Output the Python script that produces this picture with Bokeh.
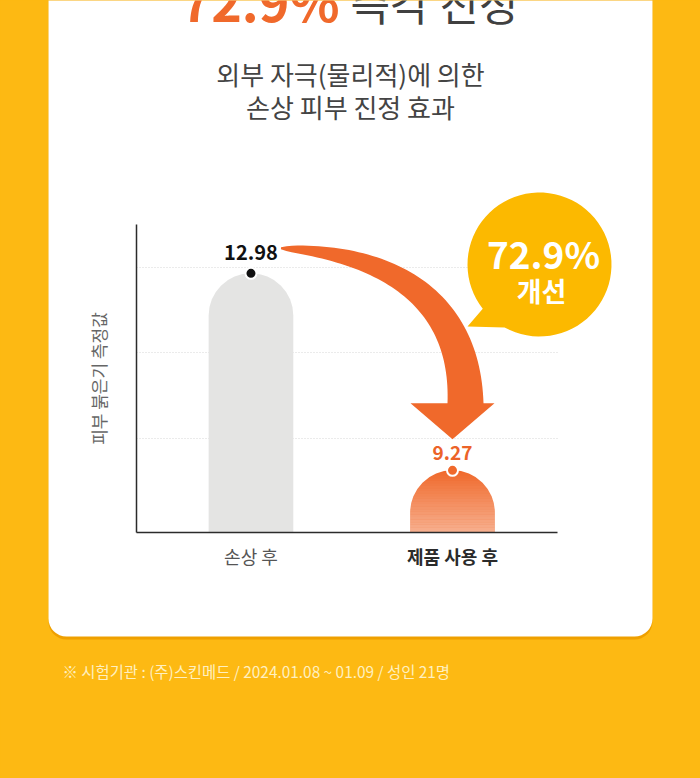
import math
from bokeh.plotting import figure
from bokeh.models import Range1d, FixedTicker, BoxAnnotation, PolyAnnotation, Label, Grid
from bokeh.embed import file_html
from bokeh.resources import INLINE

# ---------------- data ----------------
title_pct = "72.9%"
title_rest = "즉각 진정"
subtitle_lines = ["외부 자극(물리적)에 의한", "손상 피부 진정 효과"]
categories = ["손상 후", "제품 사용 후"]
values = [12.98, 9.27]
value_labels = ["12.98", "9.27"]
improvement_pct = "72.9%"
improvement_word = "개선"
y_axis_title = "피부 붉은기 측정값"
grid_values = [9.87, 11.49, 13.09]
footnote = "※ 시험기관 : (주)스킨메드 / 2024.01.08 ~ 01.09 / 성인 21명"

# ---------------- styles / layout ----------------
FONT = "Noto Sans CJK KR"
BG = "#FDB913"
ORANGE = "#F0692B"
GREY_BAR = "#E4E4E3"
bar_colors = [GREY_BAR, ORANGE]
dot_colors = ["#111111", ORANGE]
value_colors = ["#111111", "#EC6329"]
value_sizes = ["20px", "19px"]
value_offsets = [21, 17]
cat_colors = ["#555555", "#2b2b2b"]
cat_styles = ["normal", "bold"]

W, H = 700, 778
# plot area in page pixels and its data extent
PA_L, PA_R, PA_T, PA_B = 136, 557, 224, 532
X0, X1 = -0.568, 1.521
Y0, Y1 = 8.10, 13.90
kx = (PA_R - PA_L) / (X1 - X0)
ky = (PA_B - PA_T) / (Y1 - Y0)
x_start, x_end = X0 - PA_L / kx, X1 + (W - PA_R) / kx
y_start, y_end = Y0 - (H - PA_B) / ky, Y1 + PA_T / ky
BAR_W = 0.42

xs = list(range(len(categories)))


def to_page(xd, yd):
    return (PA_L + (xd - X0) * kx, PA_B - (yd - Y0) * ky)


def to_data(px, py):
    return (X0 + (px - PA_L) / kx, Y0 + (PA_B - py) / ky)


def sy(py):  # page y -> screen units (from bottom of frame)
    return H - py


p = figure(width=W, height=H, x_range=Range1d(x_start, x_end), y_range=Range1d(y_start, y_end),
           output_backend="svg", toolbar_location=None,
           min_border_left=0, min_border_right=0, min_border_top=0, min_border_bottom=0)
p.border_fill_color = BG
p.background_fill_color = BG
p.outline_line_color = None

# card (white, rounded) behind the chart
shadow = BoxAnnotation(left=48, right=652, top=sy(-30), bottom=sy(639),
                       left_units="screen", right_units="screen", top_units="screen", bottom_units="screen",
                       fill_color="#EFA000", fill_alpha=1, line_color=None, border_radius=18, level="underlay")
card = BoxAnnotation(left=48, right=652, top=sy(-30), bottom=sy(636),
                     left_units="screen", right_units="screen", top_units="screen", bottom_units="screen",
                     fill_color="white", fill_alpha=1, line_color=None, border_radius=18, level="underlay")
p.center = [shadow, card] + list(p.center)

# axes placed at the plot area edges
for ax in (p.xaxis, p.yaxis):
    ax.ticker = FixedTicker(ticks=[])
    ax.axis_line_color = "#2b2b2b"
    ax.axis_line_width = 1.5
    ax.major_tick_line_color = None
    ax.minor_tick_line_color = None
    ax.major_label_text_font_size = "0px"
    ax.major_tick_out = 0
    ax.major_tick_in = 0
    ax.major_label_standoff = 0
p.yaxis.fixed_location = X0
p.yaxis.bounds = (Y0, Y1)
p.xaxis.fixed_location = Y0
p.xaxis.bounds = (X0, X1)

p.xgrid.visible = False
if "cross_bounds" in Grid.properties():
    p.ygrid.ticker = FixedTicker(ticks=grid_values)
    p.ygrid.cross_bounds = (X0, X1)
    p.ygrid.grid_line_color = "#d6d6d6"
    p.ygrid.grid_line_dash = "1 2"
    p.ygrid.grid_line_width = 1
else:
    p.ygrid.visible = False
    p.segment(x0=[X0] * len(grid_values), x1=[X1] * len(grid_values), y0=grid_values, y1=grid_values,
              line_color="#d6d6d6", line_dash="1 2", line_width=1)

# bars
p.vbar(x=xs, top=values, bottom=Y0, width=BAR_W, fill_color=bar_colors, line_color=None,
       border_radius=(42, 42, 0, 0))

# gradient on the highlighted bar (white veil getting stronger downward)
N = 24
hb = 1
for i in range(N):
    lo = Y0 + (values[hb] - Y0) * i / N
    hi = Y0 + (values[hb] - Y0) * (i + 1) / N
    a = 0.48 * (1 - (i + 0.5) / N)
    p.quad(left=[xs[hb] - BAR_W / 2], right=[xs[hb] + BAR_W / 2], bottom=[lo], top=[hi],
           fill_color="white", fill_alpha=a, line_color=None)

# curved arrow from first value to second (page pixel geometry anchored on data)
ax0, ay0 = to_page(xs[0], values[0])
bx1, by1 = to_page(xs[1], values[1])
S = (ax0 + 30, ay0 - 25)
T = (bx1, by1 - 31)
base_y = T[1] - 36
E = (bx1 + 13, base_y)
P0, P1, P2, P3 = S, (S[0] + 110, S[1] + 5), (E[0], E[1] - 103), E


def bez(t):
    u = 1 - t
    x = u**3 * P0[0] + 3 * u * u * t * P1[0] + 3 * u * t * t * P2[0] + t**3 * P3[0]
    y = u**3 * P0[1] + 3 * u * u * t * P1[1] + 3 * u * t * t * P2[1] + t**3 * P3[1]
    dx = 3 * u * u * (P1[0] - P0[0]) + 6 * u * t * (P2[0] - P1[0]) + 3 * t * t * (P3[0] - P2[0])
    dy = 3 * u * u * (P1[1] - P0[1]) + 6 * u * t * (P2[1] - P1[1]) + 3 * t * t * (P3[1] - P2[1])
    L = math.hypot(dx, dy)
    return x, y, -dy / L, dx / L


outer, inner = [], []
M = 60
for k in range(M + 1):
    t = k / M
    x, y, nx, ny = bez(t)
    w = min(36.0, 2.0 + 34.0 * t ** 0.6)
    outer.append((x - nx * w / 2, y - ny * w / 2))
    inner.append((x + nx * w / 2, y + ny * w / 2))
poly = outer + [(bx1 + 42, base_y), (T[0], T[1]), (bx1 - 42, base_y)] + inner[::-1]
arrow_x, arrow_y = zip(*[to_data(px, py) for px, py in poly])
p.patch(list(arrow_x), list(arrow_y), fill_color=ORANGE, line_color=None)

# value dots
p.scatter(x=xs, y=values, size=11, fill_color=dot_colors, line_color="white", line_width=2)

# value labels
for i in range(len(values)):
    p.add_layout(Label(x=xs[i], y=values[i], y_offset=value_offsets[i], text=value_labels[i],
                       text_align="center", text_baseline="middle", text_font=FONT,
                       text_font_size=value_sizes[i], text_font_style="bold", text_color=value_colors[i]))

# category labels
for i in range(len(categories)):
    p.add_layout(Label(x=xs[i], y=sy(555), x_units="data", y_units="screen", text=categories[i],
                       text_align="center", text_baseline="middle", text_font=FONT,
                       text_font_size="18px", text_font_style=cat_styles[i], text_color=cat_colors[i]))

# y axis title
p.add_layout(Label(x=98, y=sy(378), x_units="screen", y_units="screen", text=y_axis_title, angle=math.pi / 2,
                   text_align="center", text_baseline="middle", text_font=FONT, text_font_size="17px",
                   text_color="#666666"))

# speech bubble
cx, cyp, r = 539, 264, 72
bx_pts, by_pts = [], []
a_start, a_end = 241, 218 + 360
for k in range(0, 73):
    a = math.radians(a_start + (a_end - a_start) * k / 72)
    bx_pts.append(cx + r * math.cos(a))
    by_pts.append(sy(cyp) + r * math.sin(a))
bx_pts.append(cx - 72)
by_pts.append(sy(cyp) - 62)
p.add_layout(PolyAnnotation(xs=bx_pts, ys=by_pts, xs_units="screen", ys_units="screen",
                            fill_color="#FCB900", fill_alpha=1, line_color=None))
p.add_layout(Label(x=543, y=sy(252), x_units="screen", y_units="screen", text=improvement_pct,
                   text_align="center", text_baseline="middle", text_font=FONT, text_font_size="37px",
                   text_font_style="bold", text_color="white"))
p.add_layout(Label(x=541, y=sy(290), x_units="screen", y_units="screen", text=improvement_word,
                   text_align="center", text_baseline="middle", text_font=FONT, text_font_size="27px",
                   text_font_style="bold", text_color="white"))

# titles
p.add_layout(Label(x=339, y=sy(-1), x_units="screen", y_units="screen", text=title_pct,
                   text_align="right", text_baseline="middle", text_font=FONT, text_font_size="52px",
                   text_font_style="bold", text_color=ORANGE))
p.add_layout(Label(x=350, y=sy(1), x_units="screen", y_units="screen", text=title_rest,
                   text_align="left", text_baseline="middle", text_font=FONT, text_font_size="43px",
                   text_font_style="normal", text_color="#404040"))
for j, line in enumerate(subtitle_lines):
    p.add_layout(Label(x=350, y=sy(73 + 33 * j), x_units="screen", y_units="screen", text=line,
                       text_align="center", text_baseline="middle", text_font=FONT, text_font_size="26px",
                       text_font_style="normal", text_color="#444444"))

# footnote
p.add_layout(Label(x=62, y=sy(670), x_units="screen", y_units="screen", text=footnote,
                   text_align="left", text_baseline="middle", text_font=FONT, text_font_size="15.4px",
                   text_color="#FFF0C0"))

html = file_html(p, INLINE, title="chart")
html = html.replace("</head>", "<style>html,body{background:#FDB913;}</style></head>", 1)
open("out.html", "w").write(html)
